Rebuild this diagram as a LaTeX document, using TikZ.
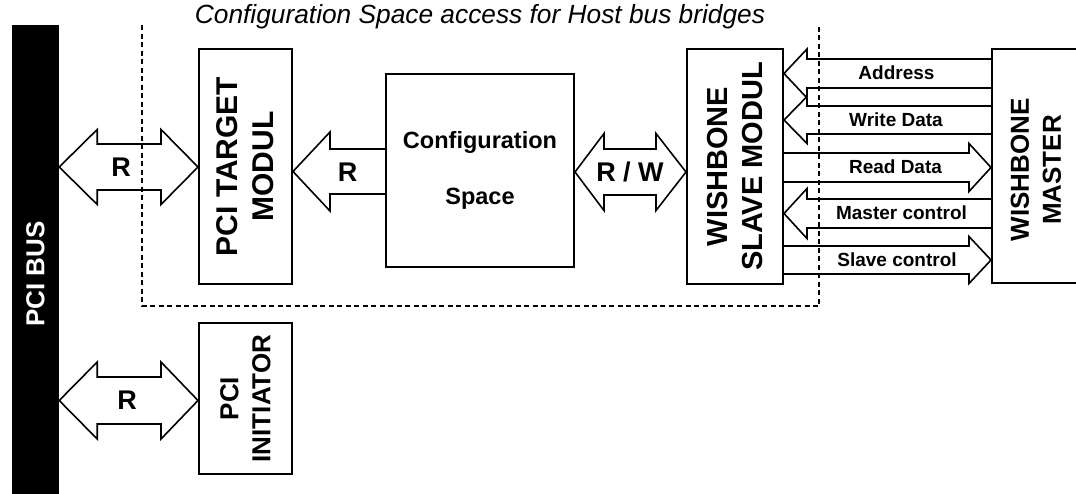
\documentclass[tikz,border=0pt]{standalone}
\usepackage{fontspec}
\setmainfont{Liberation Sans}
\usetikzlibrary{calc}

% open block arrow: #1 tip, #2 tail point (same height), #3 shaft half width,
% #4 head half width, #5 head length (negative for a right-pointing arrow)
\newcommand\blkone[5]{%
  \draw[blockarrow] ($(#2)+(0,-#3)$) -- ($(#1)+(#5,-#3)$) -- ++(0,#3-#4) -- (#1)
    -- ++(#5,#4) -- ++(0,#3-#4) -- ($(#2)+(0,#3)$);}
% closed double block arrow: #1 left tip, #2 right tip, #3 shaft half width,
% #4 head half width, #5 left head length, #6 right head length
\newcommand\blktwo[6]{%
  \draw[blockarrow] (#1) -- ++(#5,-#4) -- ++(0,#4-#3) -- ($(#2)+(-#6,-#3)$)
    -- ++(0,#3-#4) -- (#2) -- ++(-#6,#4) -- ++(0,#3-#4) -- ($(#1)+(#5,#3)$)
    -- ++(0,#4-#3) -- cycle;}

\tikzset{
  unitbox/.style={draw, line width=2pt, inner sep=0pt},
  boxtext/.style={rotate=90, align=center, font=\bfseries\fontsize{29}{35}\selectfont},
  blockarrow/.style={line width=1.6pt, line join=miter},
  biglabel/.style={font=\bfseries\fontsize{27}{30}\selectfont},
  siglabel/.style={font=\bfseries\fontsize{19}{22}\selectfont},
  frame/.style={line width=1.5pt, dash pattern=on 5pt off 3.5pt},
}

\begin{document}
\begin{tikzpicture}[x=1pt, y=-1pt]
\useasboundingbox (0,0) rectangle (1076,493);

% bus bar and function blocks
\node[fill=black, minimum width=47pt, minimum height=498pt, inner sep=0pt] (bus) at (35.5,274) {};
\node[rotate=90, text=white, font=\bfseries\fontsize{26}{30}\selectfont] (buslbl) at (bus.center) {PCI BUS};

\node[unitbox, minimum width=93pt, minimum height=235pt] (target) at (245.5,166.5) {};
\node[boxtext, font=\bfseries\fontsize{30}{36}\selectfont] (targetlbl) at (target.center) {PCI TARGET\\MODUL};

\node[unitbox, minimum width=188pt, minimum height=193pt] (config) at (480,170.5) {};
\node[font=\bfseries\fontsize{23.5}{56}\selectfont, align=center] (configlbl) at (480,170) {Configuration\\Space};

\node[unitbox, minimum width=96pt, minimum height=235pt] (slave) at (735,166.5) {};
\node[boxtext] (slavelbl) at (slave.center) {WISHBONE\\SLAVE MODUL};

\node[unitbox, minimum width=88pt, minimum height=234pt] (master) at (1036,166) {};
\node[boxtext, font=\bfseries\fontsize{26}{32}\selectfont] (masterlbl) at (1036,170) {WISHBONE\\MASTER};

\node[unitbox, minimum width=93pt, minimum height=151pt] (init) at (245.5,398.5) {};
\node[boxtext, font=\bfseries\fontsize{26}{32}\selectfont] (initlbl) at (init.center) {PCI\\INITIATOR};

% title
\node[font=\itshape\fontsize{26.3}{30}\selectfont] (title) at (480,17) {Configuration Space access for Host bus bridges};

% arrow end points on the block edges
\coordinate (busT) at (bus.east |- 0,167);
\coordinate (tgtW) at (target.west |- 0,167);
\coordinate (tgtE) at (target.east |- 0,171.5);
\coordinate (cfgW) at (config.west |- 0,171.5);
\coordinate (cfgE) at (config.east |- 0,172);
\coordinate (slvW) at (slave.west |- 0,172);
\coordinate (busI) at (bus.east |- 0,400.5);
\coordinate (iniW) at (init.west |- 0,400.5);

\coordinate (adrS) at (slave.east |- 0,73.5);
\coordinate (adrM) at (master.west |- 0,73.5);
\coordinate (wrS) at (slave.east |- 0,120);
\coordinate (wrM) at (master.west |- 0,120);
\coordinate (rdS) at (slave.east |- 0,167.5);
\coordinate (rdM) at (master.west |- 0,167.5);
\coordinate (mcS) at (slave.east |- 0,213.5);
\coordinate (mcM) at (master.west |- 0,213.5);
\coordinate (scS) at (slave.east |- 0,260);
\coordinate (scM) at (master.west |- 0,260);

% block arrows
\blktwo{busT}{tgtW}{23}{37.5}{38}{37}
\blkone{tgtE}{cfgW}{22.5}{39.5}{37}
\blktwo{cfgE}{slvW}{23}{38.5}{29}{30}
\blktwo{busI}{iniW}{23.5}{38.5}{38}{37}

\blkone{adrS}{adrM}{14.5}{24.5}{23}
\blkone{wrS}{wrM}{14}{23.5}{23}
\blkone{rdM}{rdS}{14.5}{24}{-22}
\blkone{mcS}{mcM}{14.5}{25}{23}
\blkone{scM}{scS}{14}{23.5}{-22}

% arrow labels
\node[biglabel] (r1) at (121,167) {R};
\node[biglabel] (r2) at (347.5,172) {R};
\node[biglabel] (rw) at (630,172) {R / W};
\node[biglabel] (r3) at (127,400) {R};

\node[siglabel] (adr) at (896.5,73) {Address};
\node[siglabel] (wr) at (896,120) {Write Data};
\node[siglabel] (rd) at (895.5,167) {Read Data};
\node[siglabel] (mc) at (901.5,213) {Master control};
\node[siglabel] (sc) at (897,260) {Slave control};

% configuration space frame
\coordinate (fTL) at (142,25);
\coordinate (fBL) at (142,306);
\coordinate (fBR) at (819,306);
\coordinate (fTR) at (819,25);
\draw[frame] (fTL) -- (fBL) -- (fBR) -- (fTR);
\end{tikzpicture}
\end{document}
